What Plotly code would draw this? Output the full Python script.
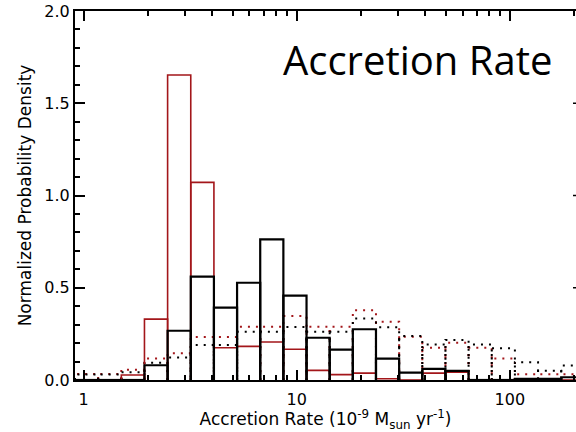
import plotly.graph_objects as go

# Histogram binning in log10(accretion rate / 1e-9 Msun/yr)
log_edge_start = -0.0399
log_bin_width = 0.1086
n_bins = 22

# Normalized probability density per bin
red_solid = [0.0, 0.0, 0.027, 0.33, 1.653, 1.071, 0.175, 0.182, 0.206, 0.167, 0.052,
             0.029, 0.037, 0.007, 0.0, 0.037, 0.042, 0.0, 0.0, 0.0, 0.0, 0.0]
black_solid = [0.0, 0.0, 0.0, 0.08, 0.267, 0.56, 0.392, 0.527, 0.762, 0.457, 0.229,
               0.165, 0.275, 0.116, 0.04, 0.06, 0.05, 0.0, 0.0, 0.006, 0.006, 0.015]
red_dotted = [0.032, 0.032, 0.056, 0.116, 0.145, 0.233, 0.233, 0.288, 0.288, 0.347, 0.288,
              0.288, 0.378, 0.316, 0.235, 0.175, 0.202, 0.175, 0.116, 0.031, 0.031, 0.031]
black_dotted = [0.03, 0.03, 0.042, 0.094, 0.122, 0.19, 0.19, 0.262, 0.262, 0.287, 0.262,
                0.262, 0.334, 0.286, 0.238, 0.193, 0.217, 0.193, 0.172, 0.096, 0.05, 0.078]

x_tick_vals = [1, 10, 100]
x_tick_text = ["1", "10", "100"]
x_minor_vals = [2, 3, 4, 5, 6, 7, 8, 9, 20, 30, 40, 50, 60, 70, 80, 90, 200]
y_tick_vals = [0.0, 0.5, 1.0, 1.5, 2.0]
y_tick_text = ["0.0", "0.5", "1.0", "1.5", "2.0"]

RED = "#a3161a"
BLACK = "#000000"
LABEL_FONT = "DejaVu Sans"

edges = [10 ** (log_edge_start + i * log_bin_width) for i in range(n_bins + 1)]


def boxes(heights):
    """Outline every bin as a closed box standing on the zero line."""
    xs, ys = [], []
    for i, h in enumerate(heights):
        lo, hi = edges[i], edges[i + 1]
        xs += [lo, lo, hi, hi, None]
        ys += [0, h, h, 0, None]
    return xs, ys


fig = go.Figure()

series = [
    (red_dotted, RED, "2px,6px", 2.0),
    (black_dotted, BLACK, "2px,6px", 2.0),
    (red_solid, RED, "solid", 1.6),
    (black_solid, BLACK, "solid", 2.2),
]
for vals, color, dash, width in series:
    xs, ys = boxes(vals)
    fig.add_trace(go.Scatter(
        x=xs, y=ys, mode="lines", connectgaps=False,
        line=dict(color=color, width=width, dash=dash),
        hoverinfo="skip", showlegend=False,
    ))

x_range = [log_edge_start, log_edge_start + 2.35]

fig.update_layout(
    width=576, height=432,
    margin=dict(l=75, r=0, t=11, b=52),
    paper_bgcolor="white", plot_bgcolor="white",
    showlegend=False,
    font=dict(family=LABEL_FONT, size=17, color="black"),
    xaxis=dict(
        type="log", range=x_range,
        showline=True, linecolor="black", linewidth=2, mirror="ticks",
        showgrid=False, zeroline=False,
        ticks="inside", ticklen=10, tickwidth=1.5, tickcolor="black",
        tickvals=x_tick_vals, ticktext=x_tick_text,
        tickfont=dict(family=LABEL_FONT, size=16),
        ticklabelstandoff=4,
        minor=dict(tickvals=x_minor_vals, ticks="inside", ticklen=5,
                   tickwidth=1.5, tickcolor="black", showgrid=False),
        title=dict(text="Accretion Rate (10<sup>-9</sup> M<sub>sun</sub> yr<sup>-1</sup>)",
                   font=dict(family=LABEL_FONT, size=17), standoff=2),
    ),
    yaxis=dict(
        range=[0, 2.0],
        showline=True, linecolor="black", linewidth=2, mirror=False,
        showgrid=False, zeroline=False,
        ticks="inside", ticklen=10, tickwidth=1.5, tickcolor="black",
        tickvals=y_tick_vals, ticktext=y_tick_text,
        tickfont=dict(family=LABEL_FONT, size=16),
        minor=dict(dtick=0.1, ticks="inside", ticklen=5,
                   tickwidth=1.5, tickcolor="black", showgrid=False),
        title=dict(text="Normalized Probability Density",
                   font=dict(family=LABEL_FONT, size=17), standoff=8),
    ),
)

# Tips of the right-hand axis ticks that reach into the frame
for v in y_tick_vals[1:-1]:
    fig.add_shape(type="line", xref="paper", yref="y",
                  x0=1 - 3 / 501, x1=1, y0=v, y1=v,
                  line=dict(color="black", width=1.5))

fig.add_annotation(
    text="Accretion Rate", xref="paper", yref="paper",
    x=0.684, y=0.868, xanchor="center", yanchor="middle",
    showarrow=False, font=dict(family="Open Sans", size=40, color="black"),
)

fig.write_html("out.html")
